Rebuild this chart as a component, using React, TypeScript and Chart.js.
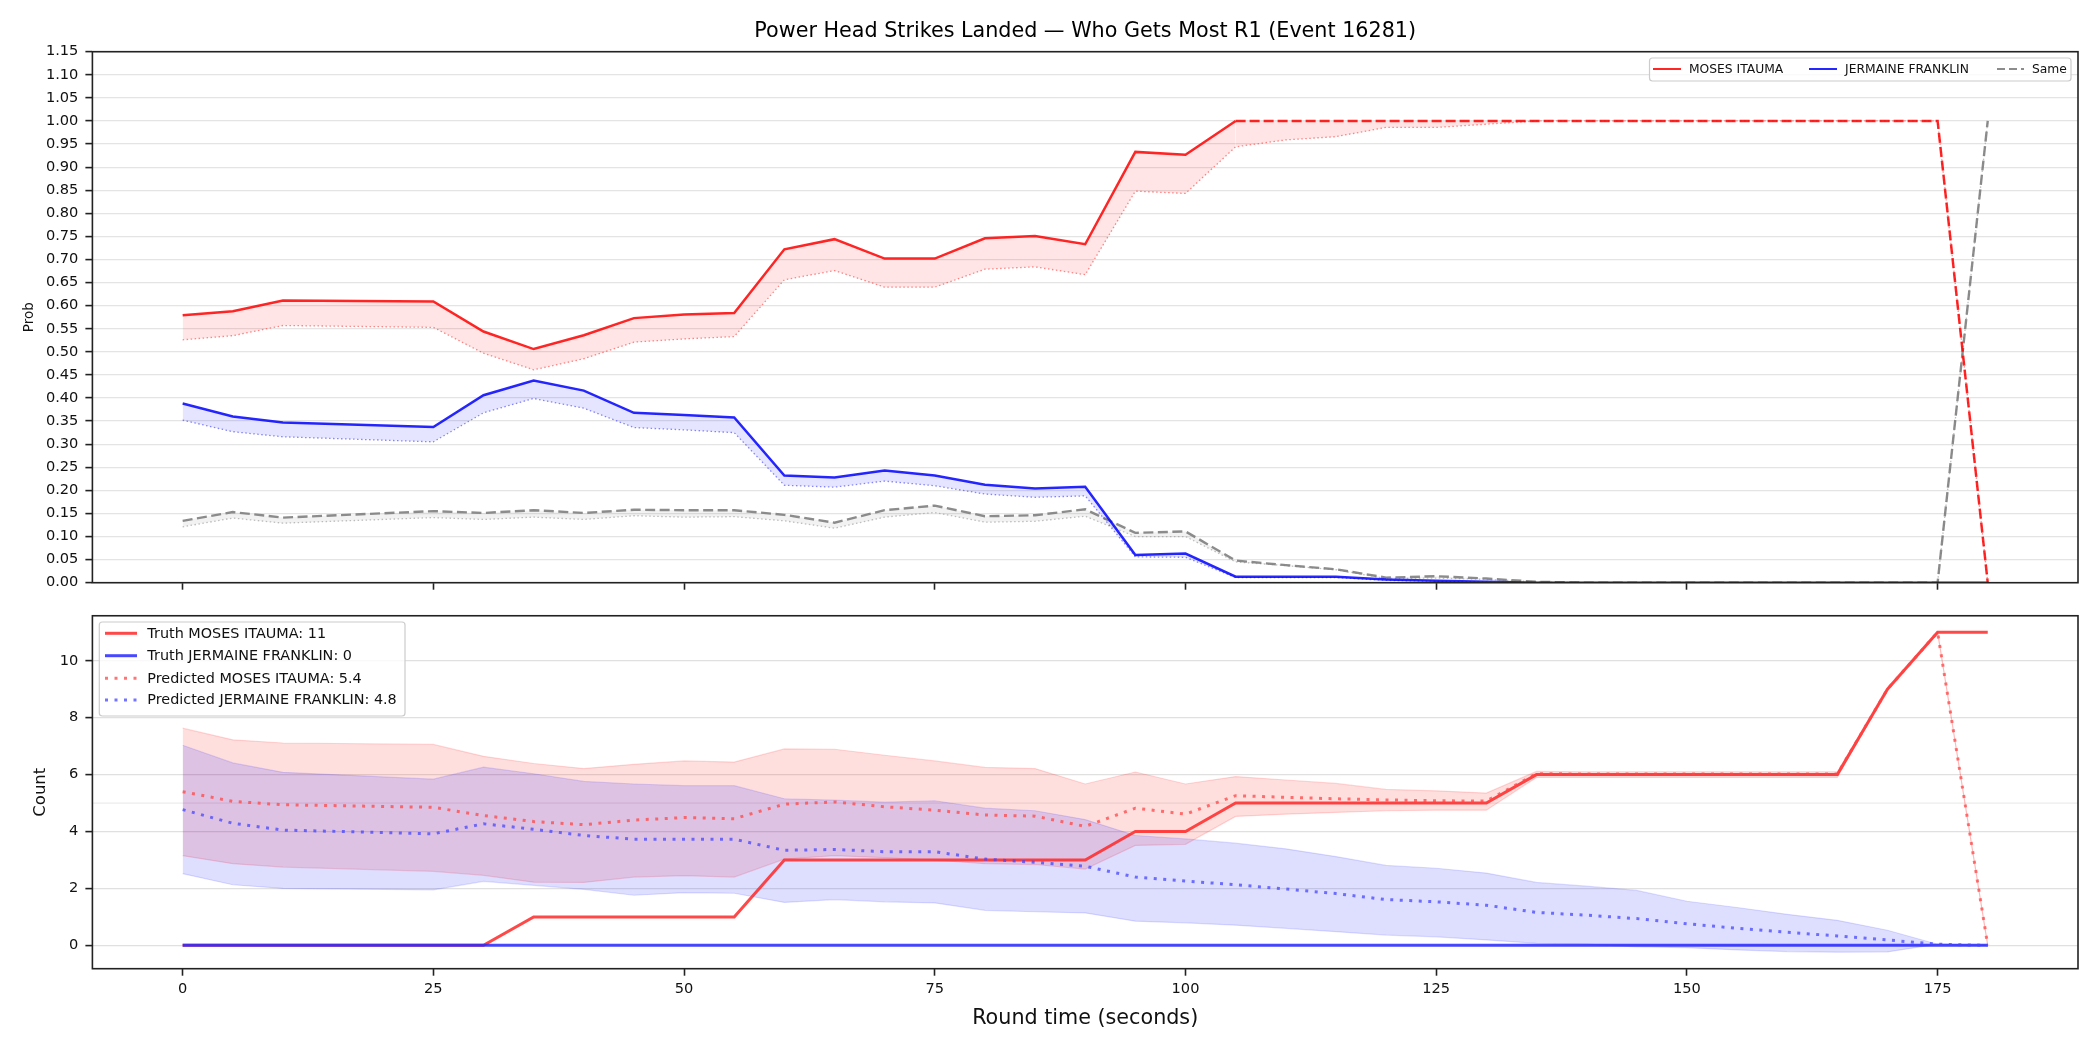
import React, { useEffect, useRef } from "react";
import { Chart, registerables } from "chart.js";

Chart.register(...registerables);

// ---------- data ----------
const times = [0, 5, 10, 25, 30, 35, 40, 45, 50, 55, 60, 65, 70, 75, 80, 85, 90, 95, 100, 105, 110, 115, 120, 125, 130, 135, 140, 145, 150, 155, 160, 165, 170, 175, 180];

// top panel: probabilities
const mosesProb = [0.579, 0.588, 0.611, 0.609, 0.544, 0.506, 0.536, 0.573, 0.581, 0.584, 0.722, 0.744, 0.702, 0.702, 0.746, 0.751, 0.733, 0.933, 0.927, 1.0, 1.0, 1.0, 1.0, 1.0, 1.0, 1.0, 1.0, 1.0, 1.0, 1.0, 1.0, 1.0, 1.0, 1.0, 0.0];
const mosesProbLow = [0.526, 0.535, 0.557, 0.553, 0.497, 0.461, 0.485, 0.521, 0.528, 0.533, 0.656, 0.676, 0.640, 0.640, 0.679, 0.684, 0.667, 0.848, 0.843, 0.944, 0.959, 0.966, 0.986, 0.986, 0.993, 1.0, 1.0, 1.0, 1.0, 1.0, 1.0, 1.0, 1.0, 1.0, 0.0];
const franklinProb = [0.388, 0.360, 0.347, 0.337, 0.406, 0.438, 0.416, 0.368, 0.363, 0.358, 0.232, 0.228, 0.243, 0.232, 0.212, 0.204, 0.208, 0.060, 0.063, 0.013, 0.013, 0.013, 0.007, 0.004, 0.002, 0, 0, 0, 0, 0, 0, 0, 0, 0, 0];
const franklinProbLow = [0.352, 0.327, 0.316, 0.305, 0.368, 0.399, 0.378, 0.336, 0.331, 0.325, 0.211, 0.207, 0.220, 0.210, 0.192, 0.185, 0.188, 0.056, 0.055, 0.011, 0.011, 0.011, 0.005, 0.003, 0.001, 0, 0, 0, 0, 0, 0, 0, 0, 0, 0];
const sameProb = [0.134, 0.153, 0.141, 0.155, 0.151, 0.157, 0.151, 0.158, 0.157, 0.157, 0.147, 0.130, 0.157, 0.167, 0.144, 0.146, 0.159, 0.108, 0.111, 0.048, 0.038, 0.029, 0.011, 0.014, 0.009, 0.002, 0, 0, 0, 0, 0, 0, 0, 0, 1.0];
const sameProbLow = [0.121, 0.140, 0.129, 0.141, 0.137, 0.142, 0.137, 0.145, 0.142, 0.143, 0.134, 0.118, 0.142, 0.152, 0.131, 0.133, 0.144, 0.100, 0.100, 0.045, 0.037, 0.028, 0.009, 0.010, 0.007, 0.002, 0, 0, 0, 0, 0, 0, 0, 0, 1.0];

// bottom panel: counts
const mosesTruth = [0, 0, 0, 0, 0, 1, 1, 1, 1, 1, 3, 3, 3, 3, 3, 3, 3, 4, 4, 5, 5, 5, 5, 5, 5, 6, 6, 6, 6, 6, 6, 6, 9, 11, 11];
const franklinTruth = [0, 0, 0, 0, 0, 0, 0, 0, 0, 0, 0, 0, 0, 0, 0, 0, 0, 0, 0, 0, 0, 0, 0, 0, 0, 0, 0, 0, 0, 0, 0, 0, 0, 0, 0];
const mosesPred = [5.40, 5.06, 4.94, 4.85, 4.56, 4.35, 4.24, 4.40, 4.49, 4.45, 4.96, 5.04, 4.87, 4.75, 4.58, 4.54, 4.18, 4.82, 4.61, 5.26, 5.20, 5.15, 5.11, 5.08, 5.07, 6.03, 6.02, 6.02, 6.02, 6.02, 6.02, 6.02, 9.0, 11.0, 0];
const mosesHi = [7.63, 7.22, 7.11, 7.06, 6.64, 6.39, 6.21, 6.36, 6.48, 6.44, 6.90, 6.89, 6.68, 6.48, 6.25, 6.21, 5.67, 6.09, 5.67, 5.93, 5.81, 5.69, 5.48, 5.43, 5.35, 6.11, 6.1, 6.1, 6.1, 6.1, 6.1, 6.1, 9.0, 11.0, 0];
const mosesLo = [3.15, 2.87, 2.75, 2.60, 2.46, 2.22, 2.21, 2.40, 2.45, 2.40, 3.03, 3.15, 3.08, 2.99, 2.87, 2.84, 2.68, 3.51, 3.55, 4.53, 4.61, 4.67, 4.73, 4.75, 4.75, 5.90, 5.9, 5.9, 5.9, 5.9, 5.9, 5.9, 9.0, 11.0, 0];
const franklinPred = [4.77, 4.29, 4.05, 3.92, 4.27, 4.08, 3.86, 3.73, 3.73, 3.73, 3.34, 3.37, 3.29, 3.29, 3.03, 2.92, 2.78, 2.40, 2.26, 2.13, 1.98, 1.82, 1.61, 1.53, 1.41, 1.16, 1.06, 0.94, 0.76, 0.60, 0.46, 0.33, 0.19, 0.04, 0];
const franklinHi = [7.03, 6.41, 6.08, 5.84, 6.26, 6.03, 5.76, 5.67, 5.61, 5.61, 5.15, 5.10, 5.03, 5.08, 4.82, 4.73, 4.42, 3.86, 3.74, 3.59, 3.39, 3.12, 2.81, 2.71, 2.54, 2.21, 2.08, 1.93, 1.55, 1.33, 1.09, 0.88, 0.53, 0.04, 0];
const franklinLo = [2.52, 2.13, 2.00, 1.95, 2.25, 2.11, 1.97, 1.76, 1.85, 1.83, 1.51, 1.61, 1.53, 1.49, 1.23, 1.18, 1.14, 0.85, 0.79, 0.71, 0.60, 0.48, 0.36, 0.30, 0.19, 0.07, 0.04, -0.05, -0.08, -0.16, -0.22, -0.24, -0.23, 0.04, 0];

// ticks / labels
const probTicks = [0, 0.05, 0.1, 0.15, 0.2, 0.25, 0.3, 0.35, 0.4, 0.45, 0.5, 0.55, 0.6, 0.65, 0.7, 0.75, 0.8, 0.85, 0.9, 0.95, 1.0, 1.05, 1.1, 1.15];
const timeTicks = [0, 25, 50, 75, 100, 125, 150, 175];
const countTicks = [0, 2, 4, 6, 8, 10];
const countRefLine = 5;
const mosesDecidedFrom = 105;

const titleText = "Power Head Strikes Landed \u2014 Who Gets Most R1 (Event 16281)";
const topLegendLabels = ["MOSES ITAUMA", "JERMAINE FRANKLIN", "Same"];
const bottomLegendLabels = [
  "Truth MOSES ITAUMA: 11",
  "Truth JERMAINE FRANKLIN: 0",
  "Predicted MOSES ITAUMA: 5.4",
  "Predicted JERMAINE FRANKLIN: 4.8",
];

const FONT = "'DejaVu Sans', 'Liberation Sans', sans-serif";
Chart.defaults.font.family = FONT;

const pts = (arr: number[]) => times.map((t, i) => ({ x: t, y: arr[i] }));

const RED = "rgba(255,0,0,0.85)";
const BLUE = "rgba(0,0,255,0.85)";
const GRAY = "rgba(128,128,128,0.9)";

const framePlugin = {
  id: "frame",
  afterDraw(chart: any) {
    const { ctx, chartArea: a } = chart;
    ctx.save();
    ctx.strokeStyle = "#222";
    ctx.lineWidth = 1.6;
    ctx.strokeRect(a.left, a.top, a.right - a.left, a.bottom - a.top);
    ctx.restore();
  },
};

type LegendItem = { label: string; color: string; width: number; dash?: number[]; x1: number; x2: number; tx: number; y: number };

function drawLegend(ctx: CanvasRenderingContext2D, box: { x: number; y: number; w: number; h: number }, items: LegendItem[], fontSize: number) {
  ctx.save();
  const r = 3;
  ctx.beginPath();
  ctx.moveTo(box.x + r, box.y);
  ctx.lineTo(box.x + box.w - r, box.y);
  ctx.arcTo(box.x + box.w, box.y, box.x + box.w, box.y + r, r);
  ctx.lineTo(box.x + box.w, box.y + box.h - r);
  ctx.arcTo(box.x + box.w, box.y + box.h, box.x + box.w - r, box.y + box.h, r);
  ctx.lineTo(box.x + r, box.y + box.h);
  ctx.arcTo(box.x, box.y + box.h, box.x, box.y + box.h - r, r);
  ctx.lineTo(box.x, box.y + r);
  ctx.arcTo(box.x, box.y, box.x + r, box.y, r);
  ctx.closePath();
  ctx.fillStyle = "rgba(255,255,255,0.8)";
  ctx.fill();
  ctx.strokeStyle = "#cccccc";
  ctx.lineWidth = 1.2;
  ctx.stroke();
  for (const it of items) {
    ctx.beginPath();
    ctx.setLineDash(it.dash || []);
    ctx.strokeStyle = it.color;
    ctx.lineWidth = it.width;
    ctx.lineCap = "butt";
    ctx.moveTo(it.x1, it.y);
    ctx.lineTo(it.x2, it.y);
    ctx.stroke();
    ctx.setLineDash([]);
    ctx.fillStyle = "#111";
    ctx.font = `${fontSize}px ${FONT}`;
    ctx.textBaseline = "middle";
    ctx.textAlign = "left";
    ctx.fillText(it.label, it.tx, it.y + 0.5);
  }
  ctx.restore();
}

const topDecor = {
  id: "topDecor",
  afterDraw(chart: any) {
    const { ctx, chartArea: a } = chart;
    ctx.save();
    ctx.fillStyle = "#000";
    ctx.font = `20.7px ${FONT}`;
    ctx.textAlign = "center";
    ctx.textBaseline = "middle";
    ctx.fillText(titleText, (a.left + a.right) / 2, 32);
    ctx.restore();
    drawLegend(ctx, { x: 1649.5, y: 58, w: 421.5, h: 23 }, [
      { label: topLegendLabels[0], color: RED, width: 2, x1: 1653, x2: 1681, tx: 1689, y: 69 },
      { label: topLegendLabels[1], color: BLUE, width: 2, x1: 1809, x2: 1837, tx: 1845, y: 69 },
      { label: topLegendLabels[2], color: GRAY, width: 2, dash: [8, 4], x1: 1997, x2: 2024, tx: 2032, y: 69 },
    ], 12.3);
  },
};

const bottomDecor = {
  id: "bottomDecor",
  beforeDatasetsDraw(chart: any) {
    const { ctx, chartArea: a, scales } = chart;
    const y = scales.y.getPixelForValue(countRefLine);
    ctx.save();
    ctx.strokeStyle = "#ececec";
    ctx.lineWidth = 1.2;
    ctx.beginPath();
    ctx.moveTo(a.left, y);
    ctx.lineTo(a.right, y);
    ctx.stroke();
    ctx.restore();
  },
  afterDraw(chart: any) {
    const { ctx } = chart;
    drawLegend(ctx, { x: 99.3, y: 22, w: 305.7, h: 94 }, [
      { label: bottomLegendLabels[0], color: "rgba(255,40,40,0.85)", width: 3, x1: 105, x2: 137, tx: 147.3, y: 33.3 },
      { label: bottomLegendLabels[1], color: "rgba(40,40,255,0.85)", width: 3, x1: 105, x2: 137, tx: 147.3, y: 55.7 },
      { label: bottomLegendLabels[2], color: "rgba(255,70,70,0.75)", width: 3, dash: [3, 6.5], x1: 105, x2: 137, tx: 147.3, y: 78.3 },
      { label: bottomLegendLabels[3], color: "rgba(70,70,255,0.75)", width: 3, dash: [3, 6.5], x1: 105, x2: 137, tx: 147.3, y: 100 },
    ], 14.4);
  },
};

const tickFont = { size: 14.6 };

function xScale(showLabels: boolean, height: number) {
  return {
    type: "linear" as const,
    min: -9,
    max: 189,
    afterBuildTicks: (s: any) => {
      s.ticks = timeTicks.map((v) => ({ value: v }));
    },
    afterFit: (s: any) => {
      s.height = height;
    },
    ticks: { display: showLabels, font: tickFont, color: "#111", padding: 4.5, maxRotation: 0, callback: (v: any) => String(v) },
    grid: { display: true, drawOnChartArea: false, drawTicks: true, tickLength: 7, tickColor: "#222", tickWidth: 1.6 },
    border: { display: false },
    title: showLabels
      ? { display: true, text: "Round time (seconds)", font: { size: 20.7 }, color: "#111", padding: { top: 0, bottom: 19 } }
      : { display: false },
  };
}

function TopChart() {
  const ref = useRef<HTMLCanvasElement | null>(null);
  useEffect(() => {
    if (!ref.current) return;
    const dotted = [1.5, 2.5];
    const chart = new Chart(ref.current, {
      type: "line",
      data: {
        datasets: [
          { data: pts(mosesProbLow), borderColor: "rgba(255,60,60,0.6)", borderWidth: 1.3, borderDash: dotted, pointRadius: 0, fill: false, order: 3 },
          {
            data: pts(mosesProb), borderColor: RED, borderWidth: 2.5, pointRadius: 0, order: 1,
            fill: { target: 0 }, backgroundColor: "rgba(255,0,0,0.1)",
            segment: { borderDash: (c: any) => (c.p0.parsed.x >= mosesDecidedFrom ? [10, 4] : undefined) },
          },
          { data: pts(franklinProbLow), borderColor: "rgba(60,60,255,0.6)", borderWidth: 1.3, borderDash: dotted, pointRadius: 0, fill: false, order: 3 },
          { data: pts(franklinProb), borderColor: BLUE, borderWidth: 2.5, pointRadius: 0, order: 1, fill: { target: 2 }, backgroundColor: "rgba(0,0,255,0.1)" },
          { data: pts(sameProbLow), borderColor: "rgba(150,150,150,0.6)", borderWidth: 1.3, borderDash: dotted, pointRadius: 0, fill: false, order: 3 },
          { data: pts(sameProb), borderColor: GRAY, borderWidth: 2.4, borderDash: [10, 4.5], pointRadius: 0, order: 2, fill: { target: 4 }, backgroundColor: "rgba(128,128,128,0.1)" },
        ],
      },
      options: {
        responsive: false,
        animation: false,
        devicePixelRatio: 1,
        layout: { padding: { left: 0, top: 51.7, right: 22, bottom: 0 } },
        plugins: { legend: { display: false }, tooltip: { enabled: false }, title: { display: false } },
        scales: {
          x: xScale(false, 17.3) as any,
          y: {
            type: "linear",
            min: 0,
            max: 1.15,
            afterBuildTicks: (s: any) => {
              s.ticks = probTicks.map((v) => ({ value: v }));
            },
            afterFit: (s: any) => {
              s.width = 92.4;
            },
            ticks: { font: tickFont, color: "#111", padding: 7, callback: (v: any) => Number(v).toFixed(2) },
            grid: { color: "#e4e4e4", lineWidth: 1.2, tickColor: "#222", tickLength: 7, tickWidth: 1.6 },
            border: { display: false },
            title: { display: true, text: "Prob", font: { size: 13.5 }, color: "#111", padding: { top: 20.9, bottom: 0 } },
          },
        },
      },
      plugins: [framePlugin, topDecor],
    } as any);
    return () => chart.destroy();
  }, []);
  return <canvas ref={ref} width={2100} height={600} style={{ position: "absolute", left: 0, top: 0, width: 2100, height: 600 }} />;
}

function BottomChart() {
  const ref = useRef<HTMLCanvasElement | null>(null);
  useEffect(() => {
    if (!ref.current) return;
    const bandDotted = [3, 6.5];
    const chart = new Chart(ref.current, {
      type: "line",
      data: {
        datasets: [
          { data: pts(mosesLo), borderColor: "rgba(255,0,0,0.15)", borderWidth: 1.2, pointRadius: 0, fill: false, order: 6 },
          { data: pts(mosesHi), borderColor: "rgba(255,0,0,0.15)", borderWidth: 1.2, pointRadius: 0, order: 6, fill: { target: 0 }, backgroundColor: "rgba(255,0,0,0.13)" },
          { data: pts(franklinLo), borderColor: "rgba(0,0,255,0.13)", borderWidth: 1.2, pointRadius: 0, fill: false, order: 5 },
          { data: pts(franklinHi), borderColor: "rgba(0,0,255,0.13)", borderWidth: 1.2, pointRadius: 0, order: 5, fill: { target: 2 }, backgroundColor: "rgba(0,0,255,0.13)" },
          { data: pts(mosesTruth), borderColor: "rgba(255,40,40,0.85)", borderWidth: 3, pointRadius: 0, fill: false, order: 4 },
          { data: pts(franklinTruth), borderColor: "rgba(40,40,255,0.85)", borderWidth: 3, pointRadius: 0, fill: false, order: 3 },
          { data: pts(mosesPred), borderColor: "rgba(255,70,70,0.75)", borderWidth: 3, borderDash: bandDotted, pointRadius: 0, fill: false, order: 2 },
          { data: pts(franklinPred), borderColor: "rgba(70,70,255,0.75)", borderWidth: 3, borderDash: bandDotted, pointRadius: 0, fill: false, order: 1 },
        ],
      },
      options: {
        responsive: false,
        animation: false,
        devicePixelRatio: 1,
        layout: { padding: { left: 0, top: 14, right: 22, bottom: 0 } },
        plugins: { legend: { display: false }, tooltip: { enabled: false }, title: { display: false } },
        scales: {
          x: xScale(true, 81.3) as any,
          y: {
            type: "linear",
            min: -0.82,
            max: 11.58,
            afterBuildTicks: (s: any) => {
              s.ticks = countTicks.map((v) => ({ value: v }));
            },
            afterFit: (s: any) => {
              s.width = 92.4;
            },
            ticks: { font: tickFont, color: "#111", padding: 7, callback: (v: any) => String(v) },
            grid: { color: "#e0e0e0", lineWidth: 1.2, tickColor: "#222", tickLength: 7, tickWidth: 1.6 },
            border: { display: false },
            title: { display: true, text: "Count", font: { size: 16.5 }, color: "#111", padding: { top: 31.1, bottom: 0 } },
          },
        },
      },
      plugins: [framePlugin, bottomDecor],
    } as any);
    return () => chart.destroy();
  }, []);
  return <canvas ref={ref} width={2100} height={450} style={{ position: "absolute", left: 0, top: 600, width: 2100, height: 450 }} />;
}

export default function App() {
  return (
    <div style={{ position: "absolute", left: 0, top: 0, width: 2100, height: 1050, background: "#fff", overflow: "hidden" }}>
      <TopChart />
      <BottomChart />
    </div>
  );
}
